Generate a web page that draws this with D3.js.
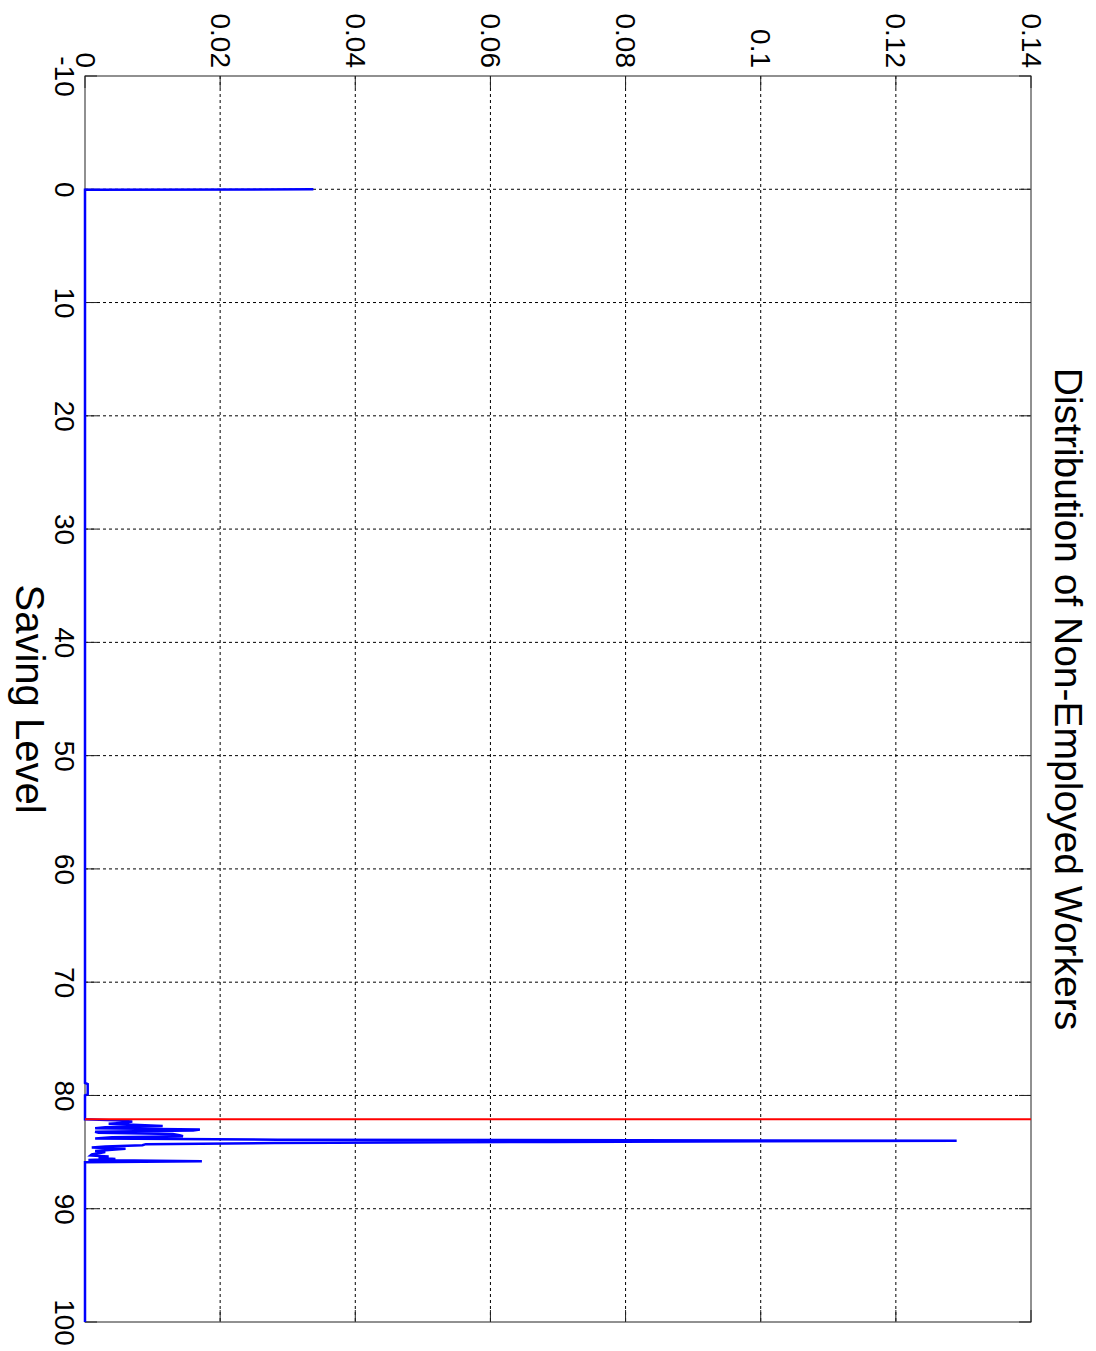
<!DOCTYPE html>
<html>
<head>
<meta charset="utf-8">
<script src="https://cdn.jsdelivr.net/npm/d3@7"></script>
<style>
  html, body { margin: 0; padding: 0; background: #fff; }
  svg { display: block; }
  text { font-family: "Liberation Sans", Arial, Helvetica, sans-serif; fill: #000; }
</style>
</head>
<body>
<svg id="chart" width="1096" height="1351"></svg>
<script>
// Saving grid points and the share of non-employed workers at each level
const savingLevel = [
  0, 0.05, 78.9, 79.0, 79.9, 80.0,
  82.1, 82.2, 82.3, 82.4, 82.5, 82.6, 82.7, 82.8, 82.9, 83.0,
  83.1, 83.2, 83.3, 83.4, 83.5, 83.6, 83.7, 83.8, 83.9, 84.0,
  84.1, 84.2, 84.3, 84.4, 84.5, 84.6, 84.7, 84.8, 84.9, 85.0,
  85.1, 85.2, 85.3, 85.4, 85.5, 85.6, 85.7, 85.8, 85.9, 100
];
const density = [
  0.0338, 0, 0, 0.0004, 0.0004, 0,
  0, 0.0045, 0.0070, 0.0060, 0.0035, 0.0080, 0.0115, 0.0030, 0.0015, 0.0170,
  0.0160, 0.0015, 0.0020, 0.0130, 0.0140, 0.0145, 0.0040, 0.0015, 0.0285, 0.1290,
  0.0690, 0.0280, 0.0090, 0.0085, 0.0030, 0.0010, 0.0060, 0.0040, 0.0015, 0.0030,
  0.0020, 0.0010, 0.0008, 0.0035, 0.0020, 0.0045, 0.0005, 0.0173, 0, 0
];
// Cut-off saving level marked in red
const cutoffSaving = 82.1;

const savingTicks = [-10, 0, 10, 20, 30, 40, 50, 60, 70, 80, 90, 100];
const densityTicks = [0, 0.02, 0.04, 0.06, 0.08, 0.1, 0.12, 0.14];
const densityTickLabels = ["0", "0.02", "0.04", "0.06", "0.08", "0.1", "0.12", "0.14"];

const titleText = "Distribution of Non-Employed Workers";
const xLabelText = "Saving Level";

// The figure is laid out in landscape and turned a quarter turn clockwise
const svg = d3.select("#chart");
const fig = svg.append("g").attr("transform", "translate(1096,0) rotate(90)");

const plotL = 76, plotR = 1322, plotT = 65, plotB = 1011;
const x = d3.scaleLinear().domain([-10, 100]).range([plotL, plotR]);
const y = d3.scaleLinear().domain([0, 0.14]).range([plotB, plotT]);
const tickLen = 12;

// dotted grid
const grid = fig.append("g")
  .attr("stroke", "#000").attr("stroke-width", 1).attr("stroke-dasharray", "3,3");
grid.selectAll("line.gx").data(savingTicks.slice(1, -1)).join("line")
  .attr("x1", d => x(d)).attr("x2", d => x(d))
  .attr("y1", plotB).attr("y2", plotT);
grid.selectAll("line.gy").data(densityTicks.slice(1, -1)).join("line")
  .attr("x1", plotL).attr("x2", plotR)
  .attr("y1", d => y(d)).attr("y2", d => y(d));

// box and inward ticks
fig.append("rect")
  .attr("x", plotL).attr("y", plotT)
  .attr("width", plotR - plotL).attr("height", plotB - plotT)
  .attr("fill", "none").attr("stroke", "#222").attr("stroke-width", 1);

const ticks = fig.append("g").attr("stroke", "#222").attr("stroke-width", 1);
savingTicks.forEach(d => {
  ticks.append("line").attr("x1", x(d)).attr("x2", x(d)).attr("y1", plotB).attr("y2", plotB - tickLen);
  ticks.append("line").attr("x1", x(d)).attr("x2", x(d)).attr("y1", plotT).attr("y2", plotT + tickLen);
});
densityTicks.forEach(d => {
  ticks.append("line").attr("x1", plotL).attr("x2", plotL + tickLen).attr("y1", y(d)).attr("y2", y(d));
  ticks.append("line").attr("x1", plotR).attr("x2", plotR - tickLen).attr("y1", y(d)).attr("y2", y(d));
});

// tick labels
const xAxis = fig.append("g")
  .attr("transform", `translate(0,${plotB})`)
  .call(d3.axisBottom(x).tickValues(savingTicks).tickFormat(d => String(d)).tickSize(0).tickPadding(10));
const yAxis = fig.append("g")
  .attr("transform", `translate(${plotL},0)`)
  .call(d3.axisLeft(y).tickValues(densityTicks).tickFormat((d, i) => densityTickLabels[i]).tickSize(0).tickPadding(8));
[xAxis, yAxis].forEach(a => {
  a.select(".domain").remove();
  a.attr("font-family", null).attr("font-size", null);
  a.selectAll("text").style("font-size", "28px").attr("fill", "#000");
});

// data line
const line = d3.line().x((d, i) => x(savingLevel[i])).y((d, i) => y(density[i]));
fig.append("path")
  .attr("d", line(savingLevel))
  .attr("fill", "none").attr("stroke", "#0000ff").attr("stroke-width", 2.5)
  .attr("stroke-linejoin", "miter");

// cut-off marker
fig.append("line")
  .attr("x1", x(cutoffSaving)).attr("x2", x(cutoffSaving))
  .attr("y1", y(0)).attr("y2", y(0.14))
  .attr("stroke", "#ff0000").attr("stroke-width", 2);

// title and axis label
fig.append("text")
  .attr("x", (plotL + plotR) / 2).attr("y", 41)
  .attr("text-anchor", "middle").style("font-size", "39px")
  .text(titleText);
fig.append("text")
  .attr("x", (plotL + plotR) / 2).attr("y", 1080)
  .attr("text-anchor", "middle").style("font-size", "40px")
  .text(xLabelText);
</script>
</body>
</html>
